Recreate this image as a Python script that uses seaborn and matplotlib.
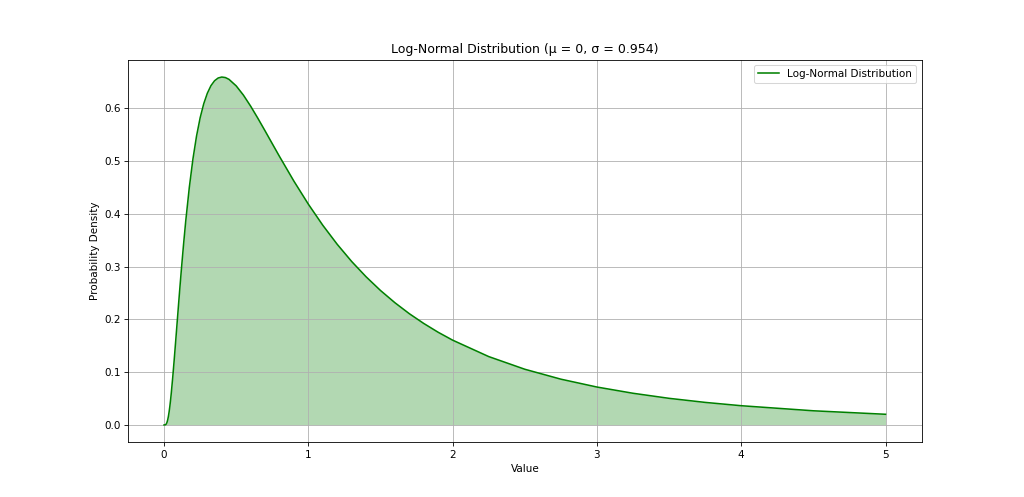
import matplotlib
matplotlib.use("Agg")
import matplotlib.pyplot as plt
import seaborn as sns
import pandas as pd

# Values
x_values = [0.0, 0.01, 0.015, 0.02, 0.025, 0.03, 0.035, 0.04, 0.045, 0.05, 0.06,
            0.07, 0.08, 0.09, 0.1, 0.11, 0.12, 0.135, 0.15, 0.175, 0.2, 0.225,
            0.25, 0.275, 0.3, 0.325, 0.35, 0.375, 0.4, 0.425, 0.45, 0.5, 0.55,
            0.6, 0.65, 0.7, 0.75, 0.8, 0.9, 1.0, 1.1, 1.2, 1.3, 1.4, 1.5, 1.6,
            1.7, 1.8, 1.9, 2.0, 2.25, 2.5, 2.75, 3.0, 3.25, 3.5, 3.75, 4.0,
            4.5, 5.0]
density = [0.0, 0.0004, 0.0017, 0.0047, 0.0095, 0.0162, 0.0249, 0.0352, 0.0471,
           0.0604, 0.0901, 0.1227, 0.1571, 0.1921, 0.2271, 0.2614, 0.2948,
           0.3420, 0.3859, 0.4502, 0.5038, 0.5473, 0.5819, 0.6086, 0.6285,
           0.6428, 0.6521, 0.6573, 0.6591, 0.6581, 0.6547, 0.6423, 0.6248,
           0.6039, 0.5810, 0.5571, 0.5328, 0.5086, 0.4618, 0.4182, 0.3783,
           0.3422, 0.3097, 0.2807, 0.2547, 0.2315, 0.2107, 0.1922, 0.1755,
           0.1606, 0.1295, 0.1055, 0.0867, 0.0718, 0.0600, 0.0504, 0.0427,
           0.0364, 0.0268, 0.0202]
title = "Log-Normal Distribution (μ = 0, σ = 0.954)"
series_label = "Log-Normal Distribution"

df = pd.DataFrame({"Value": x_values, "Density": density})

fig, ax = plt.subplots(figsize=(1024 / 75, 497 / 75), dpi=75)
sns.lineplot(data=df, x="Value", y="Density", color="green", ax=ax,
             label=series_label, linewidth=1.5)
ax.fill_between(df["Value"], df["Density"], color="green", alpha=0.3, linewidth=0)
ax.set_title(title)
ax.set_xlabel("Value")
ax.set_ylabel("Probability Density")
ax.grid(True)
ax.legend(loc="upper right")
fig.savefig("out.png", dpi=75)
